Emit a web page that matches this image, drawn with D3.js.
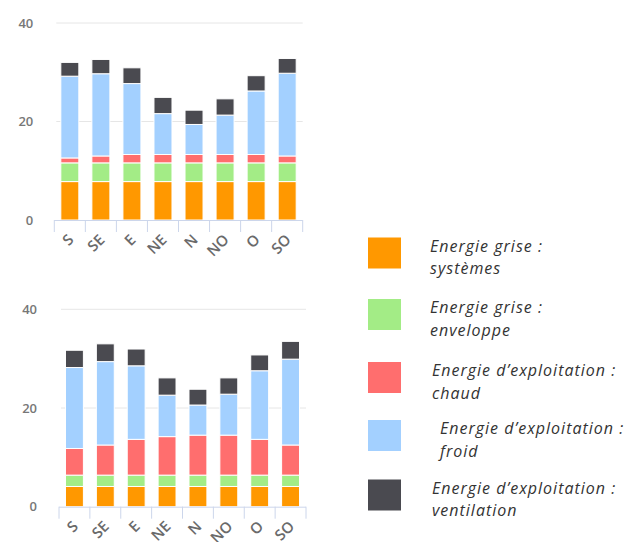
<!DOCTYPE html>
<html>
<head>
<meta charset="utf-8">
<script src="https://cdn.jsdelivr.net/npm/d3@7"></script>
<style>
  body { margin: 0; background: #fff; }
  svg { display: block; }
</style>
</head>
<body>
<script>
const width = 634
const height = 542

// orientations
const directions = ['S', 'SE', 'E', 'NE', 'N', 'NO', 'O', 'SO']
const yTicks = [0, 20, 40]

// series (graphique du haut)
const systemes1 = [7.8, 7.8, 7.8, 7.8, 7.8, 7.8, 7.8, 7.8]
const enveloppe1 = [3.8, 3.8, 3.8, 3.8, 3.8, 3.8, 3.8, 3.8]
const chaud1 = [1.0, 1.4, 1.7, 1.7, 1.7, 1.7, 1.7, 1.4]
const froid1 = [16.6, 16.7, 14.4, 8.3, 6.1, 8.0, 12.9, 16.8]
const ventilation1 = [2.8, 2.9, 3.2, 3.3, 2.9, 3.3, 3.1, 3.0]

// series (graphique du bas)
const systemes2 = [4.1, 4.1, 4.1, 4.1, 4.1, 4.1, 4.1, 4.1]
const enveloppe2 = [2.3, 2.3, 2.3, 2.3, 2.3, 2.3, 2.3, 2.3]
const chaud2 = [5.4, 6.1, 7.25, 7.8, 8.1, 8.1, 7.25, 6.1]
const froid2 = [16.4, 16.9, 14.9, 8.4, 6.1, 8.3, 13.9, 17.4]
const ventilation2 = [3.5, 3.6, 3.4, 3.5, 3.2, 3.3, 3.2, 3.6]

const keys = ['systemes', 'enveloppe', 'chaud', 'froid', 'ventilation']
const legendLabels = [
  ['Energie grise :', 'systèmes'],
  ['Energie grise :', 'enveloppe'],
  ['Energie d\u2019exploitation :', 'chaud'],
  ['Energie d\u2019exploitation :', 'froid'],
  ['Energie d\u2019exploitation :', 'ventilation']
]

const color = d3.scaleOrdinal()
  .domain(keys)
  .range(['#ff9800', '#a3ec86', '#ff6e6e', '#a3d0ff', '#4a4a50'])

const svg = d3.select('body').append('svg')
  .attr('width', width).attr('height', height)

function makeRows(s, e, c, f, v) {
  return directions.map((d, i) => ({
    dir: d, systemes: s[i], enveloppe: e[i], chaud: c[i], froid: f[i], ventilation: v[i]
  }))
}

function drawChart(rows, box) {
  const x = d3.scaleBand()
    .domain(directions)
    .range([box.left, box.right])
    .paddingInner(0.42)
    .paddingOuter(0.21)

  const y = d3.scaleLinear().domain([0, 40]).range([box.bottom, box.top])

  const g = svg.append('g')

  // grille
  g.selectAll('line.grid')
    .data(yTicks.filter(t => t > 0))
    .join('line')
    .attr('class', 'grid')
    .attr('x1', box.left + 2).attr('x2', box.right)
    .attr('y1', d => y(d)).attr('y2', d => y(d))
    .attr('stroke', '#e6e6e6').attr('stroke-width', 1)

  // labels axe y
  g.selectAll('text.ylab')
    .data(yTicks)
    .join('text')
    .attr('class', 'ylab')
    .attr('x', box.left - box.labelGap)
    .attr('y', d => y(d))
    .attr('dy', '0.35em')
    .attr('text-anchor', 'end')
    .attr('font-family', 'Open Sans, sans-serif')
    .attr('font-size', '13px')
    .attr('font-weight', 600)
    .attr('fill', '#777')
    .text(d => d)

  // barres empilees
  const stack = d3.stack().keys(keys)(rows)
  g.selectAll('g.serie')
    .data(stack)
    .join('g')
    .attr('class', 'serie')
    .attr('fill', d => color(d.key))
    .selectAll('rect')
    .data(d => d)
    .join('rect')
    .attr('x', d => x(d.data.dir))
    .attr('width', x.bandwidth())
    .attr('y', d => y(d[1]))
    .attr('height', d => y(d[0]) - y(d[1]))
    .attr('stroke', '#fff')
    .attr('stroke-width', 1)

  // axe x
  const step = x.step()
  g.append('line')
    .attr('x1', box.left).attr('x2', box.right)
    .attr('y1', box.bottom + 0.5).attr('y2', box.bottom + 0.5)
    .attr('stroke', '#ccd6eb')
  g.selectAll('line.tick')
    .data(d3.range(directions.length + 1))
    .join('line')
    .attr('class', 'tick')
    .attr('x1', i => box.left + i * step).attr('x2', i => box.left + i * step)
    .attr('y1', box.bottom).attr('y2', box.bottom + 12)
    .attr('stroke', '#ccd6eb')

  g.selectAll('text.xlab')
    .data(directions)
    .join('text')
    .attr('class', 'xlab')
    .attr('transform', d => `translate(${x(d) + x.bandwidth() / 2 + 1},${box.bottom + 17}) rotate(-45)`)
    .attr('text-anchor', 'end')
    .attr('dy', '0.35em')
    .attr('font-family', 'Open Sans, sans-serif')
    .attr('font-size', '15px')
    .attr('font-weight', 600)
    .attr('fill', '#6a6a6a')
    .text(d => d)
}

drawChart(makeRows(systemes1, enveloppe1, chaud1, froid1, ventilation1),
  { left: 54.3, right: 302.7, top: 23, bottom: 220, labelGap: 21 })
drawChart(makeRows(systemes2, enveloppe2, chaud2, froid2, ventilation2),
  { left: 59, right: 306, top: 309.3, bottom: 506.7, labelGap: 22 })

// legende
const legendY = [237.5, 299, 362, 420, 479.5]
const legendTextX = [430, 430, 432, 440, 432]
const legend = svg.selectAll('g.legend')
  .data(keys)
  .join('g')
  .attr('class', 'legend')

legend.append('rect')
  .attr('x', 368).attr('y', (d, i) => legendY[i])
  .attr('width', 33).attr('height', 31)
  .attr('fill', d => color(d))

legend.each(function (d, i) {
  const t = d3.select(this).append('text')
    .attr('font-family', 'Open Sans, sans-serif')
    .attr('font-style', 'italic')
    .attr('font-size', '16px')
    .attr('letter-spacing', '1px')
    .attr('fill', '#333')
  legendLabels[i].forEach((line, j) => {
    t.append('tspan')
      .attr('x', legendTextX[i])
      .attr('y', legendY[i] + 14 + j * 22.5)
      .text(line)
  })
})
</script>
</body>
</html>
